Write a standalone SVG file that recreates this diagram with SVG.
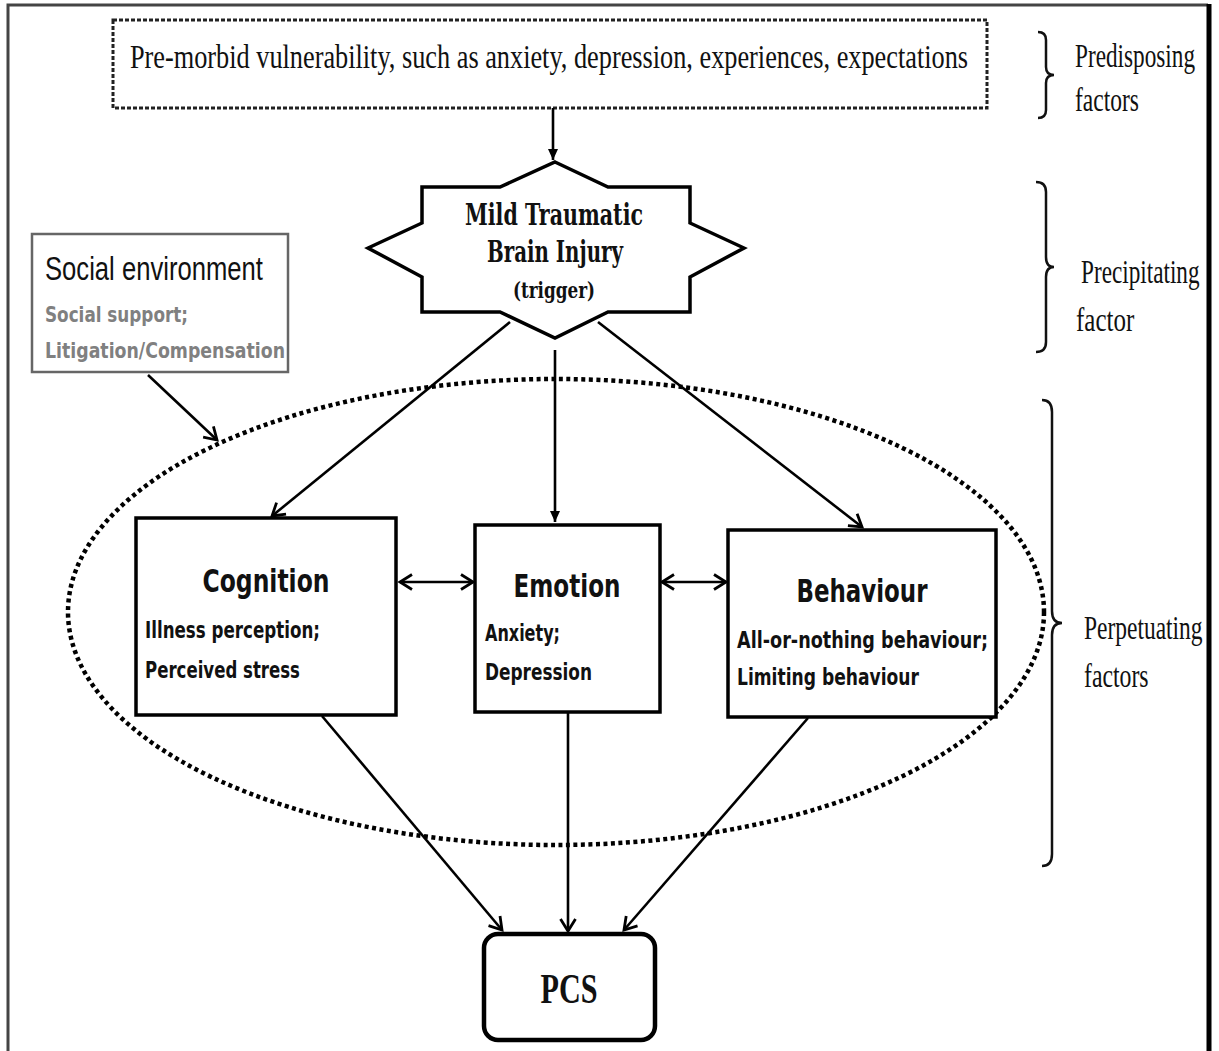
<svg xmlns="http://www.w3.org/2000/svg" width="1219" height="1051" viewBox="0 0 1219 1051">
<defs>
<marker id="arr" markerUnits="userSpaceOnUse" markerWidth="18" markerHeight="18" refX="15" refY="9" orient="auto-start-reverse" overflow="visible">
<path d="M3,1.5 L15,9 L3,16.5" fill="none" stroke="#000" stroke-width="2.8" stroke-linejoin="miter"/>
</marker>
<marker id="tri" markerUnits="userSpaceOnUse" markerWidth="14" markerHeight="14" refX="12" refY="7" orient="auto" overflow="visible">
<path d="M1,2 L12,7 L1,12 Z" fill="#000"/>
</marker>
</defs>
<style>
.box{fill:#fff;stroke:#000;stroke-width:3.5}
.conn{stroke:#000;stroke-width:2.6;fill:none}
.serif{font-family:"Liberation Serif","DejaVu Serif",serif;fill:#111}
.title{font-family:"DejaVu Sans","Open Sans",sans-serif;font-weight:bold;font-size:32px;fill:#111}
.sub{font-family:"DejaVu Sans","Open Sans",sans-serif;font-weight:bold;font-size:23px;fill:#111}
.label{font-family:"Liberation Serif","DejaVu Serif",serif;font-size:33px;fill:#111}
.brace{fill:none;stroke:#111;stroke-width:2.5}
</style>
<rect x="0" y="0" width="1219" height="1051" fill="#fff"/>
<!-- frame -->
<path d="M8,1051 L8,5 L1208,5" fill="none" stroke="#444" stroke-width="3"/>
<line x1="1209" y1="4" x2="1209" y2="1051" stroke="#000" stroke-width="5"/>

<g id="predisposing">
<rect x="113" y="20" width="874" height="88" fill="#fff" stroke="#222" stroke-width="3" stroke-dasharray="4 2"/>
<text class="serif" transform="translate(130,68) scale(0.73,1)" font-size="34" textLength="1148" lengthAdjust="spacingAndGlyphs">Pre-morbid vulnerability, such as anxiety, depression, experiences, expectations</text>
</g>

<g id="mtbi">
<path class="box" d="M555,162 L608,187 L690,187 L690,223 L744,248 L690,277 L690,312 L608,312 L555,338 L500,312 L422,312 L422,277 L368,248 L422,223 L422,187 L500,187 Z"/>
<text font-family="DejaVu Serif, serif" font-weight="bold" font-size="30" fill="#111" x="554" y="225" text-anchor="middle" textLength="178" lengthAdjust="spacingAndGlyphs">Mild Traumatic</text>
<text font-family="DejaVu Serif, serif" font-weight="bold" font-size="30" fill="#111" x="555" y="262" text-anchor="middle" textLength="136" lengthAdjust="spacingAndGlyphs">Brain Injury</text>
<text font-family="DejaVu Serif, serif" font-weight="bold" font-size="23" fill="#111" x="554" y="298" text-anchor="middle" textLength="82" lengthAdjust="spacingAndGlyphs">(trigger)</text>
</g>

<g id="social">
<rect x="32" y="234" width="256" height="138" fill="#fff" stroke="#666" stroke-width="2.5"/>
<text font-family="Liberation Sans, Arial, sans-serif" font-size="33" fill="#111" x="45" y="280" textLength="218" lengthAdjust="spacingAndGlyphs">Social environment</text>
<text font-family="DejaVu Sans, sans-serif" font-weight="bold" font-size="22" fill="#808080" x="45" y="322" textLength="143" lengthAdjust="spacingAndGlyphs">Social support;</text>
<text font-family="DejaVu Sans, sans-serif" font-weight="bold" font-size="22" fill="#808080" x="45" y="358" textLength="240" lengthAdjust="spacingAndGlyphs">Litigation/Compensation</text>
</g>

<g id="perpetuating-ellipse">
<ellipse cx="556" cy="612" rx="488" ry="233" fill="none" stroke="#000" stroke-width="4.5" stroke-dasharray="4 3.5"/>
</g>

<g id="cognition">
<rect class="box" x="136" y="518" width="260" height="197"/>
<text class="title" x="266" y="592" text-anchor="middle" textLength="127" lengthAdjust="spacingAndGlyphs">Cognition</text>
<text class="sub" x="145" y="638" textLength="175" lengthAdjust="spacingAndGlyphs">Illness perception;</text>
<text class="sub" x="145" y="678" textLength="155" lengthAdjust="spacingAndGlyphs">Perceived stress</text>
</g>

<g id="emotion">
<rect class="box" x="475" y="525" width="185" height="187"/>
<text class="title" x="567" y="597" text-anchor="middle" textLength="107" lengthAdjust="spacingAndGlyphs">Emotion</text>
<text class="sub" x="485" y="641" textLength="75" lengthAdjust="spacingAndGlyphs">Anxiety;</text>
<text class="sub" x="485" y="680" textLength="107" lengthAdjust="spacingAndGlyphs">Depression</text>
</g>

<g id="behaviour">
<rect class="box" x="728" y="530" width="268" height="187"/>
<text class="title" x="862" y="602" text-anchor="middle" textLength="131" lengthAdjust="spacingAndGlyphs">Behaviour</text>
<text class="sub" x="737" y="648" textLength="251" lengthAdjust="spacingAndGlyphs">All-or-nothing behaviour;</text>
<text class="sub" x="737" y="685" textLength="182" lengthAdjust="spacingAndGlyphs">Limiting behaviour</text>
</g>

<g id="pcs">
<rect x="484" y="934" width="171" height="106" rx="14" ry="14" fill="#fff" stroke="#000" stroke-width="4.5"/>
<text font-family="Liberation Serif, serif" font-weight="bold" font-size="43" fill="#111" x="569" y="1003" text-anchor="middle" textLength="57" lengthAdjust="spacingAndGlyphs">PCS</text>
</g>

<g id="connectors">
<line class="conn" x1="553" y1="108" x2="553" y2="160" marker-end="url(#tri)"/>
<line class="conn" x1="148" y1="375" x2="217" y2="440" marker-end="url(#arr)"/>
<line class="conn" x1="510" y1="322" x2="272" y2="516" marker-end="url(#arr)"/>
<line class="conn" x1="555" y1="350" x2="555" y2="522" marker-end="url(#tri)"/>
<line class="conn" x1="598" y1="322" x2="862" y2="527" marker-end="url(#arr)"/>
<line class="conn" x1="400" y1="582" x2="473" y2="582" marker-start="url(#arr)" marker-end="url(#arr)"/>
<line class="conn" x1="662" y1="582" x2="726" y2="582" marker-start="url(#arr)" marker-end="url(#arr)"/>
<line class="conn" x1="322" y1="716" x2="502" y2="930" marker-end="url(#arr)"/>
<line class="conn" x1="568" y1="713" x2="568" y2="931" marker-end="url(#arr)"/>
<line class="conn" x1="808" y1="718" x2="624" y2="930" marker-end="url(#arr)"/>
</g>

<g id="factor-labels">
<path class="brace" d="M1038,32 Q1046,32 1046,40 L1046,67 Q1046,75 1054,75 Q1046,75 1046,83 L1046,110 Q1046,118 1038,118"/>
<text class="label" transform="translate(1075,67) scale(0.71,1)" textLength="169" lengthAdjust="spacingAndGlyphs">Predisposing</text>
<text class="label" transform="translate(1075,111) scale(0.71,1)" textLength="90" lengthAdjust="spacingAndGlyphs">factors</text>
<path class="brace" d="M1036,182 Q1046,182 1046,192 L1046,257 Q1046,267 1054,267 Q1046,267 1046,277 L1046,342 Q1046,352 1036,352"/>
<text class="label" transform="translate(1081,283) scale(0.71,1)" textLength="167" lengthAdjust="spacingAndGlyphs">Precipitating</text>
<text class="label" transform="translate(1076,331) scale(0.71,1)" textLength="82" lengthAdjust="spacingAndGlyphs">factor</text>
<path class="brace" d="M1042,400 Q1052,400 1052,412 L1052,611 Q1052,623 1062,623 Q1052,623 1052,635 L1052,854 Q1052,866 1042,866"/>
<text class="label" transform="translate(1084,639) scale(0.71,1)" textLength="167" lengthAdjust="spacingAndGlyphs">Perpetuating</text>
<text class="label" transform="translate(1084,687) scale(0.71,1)" textLength="91" lengthAdjust="spacingAndGlyphs">factors</text>
</g>
</svg>
